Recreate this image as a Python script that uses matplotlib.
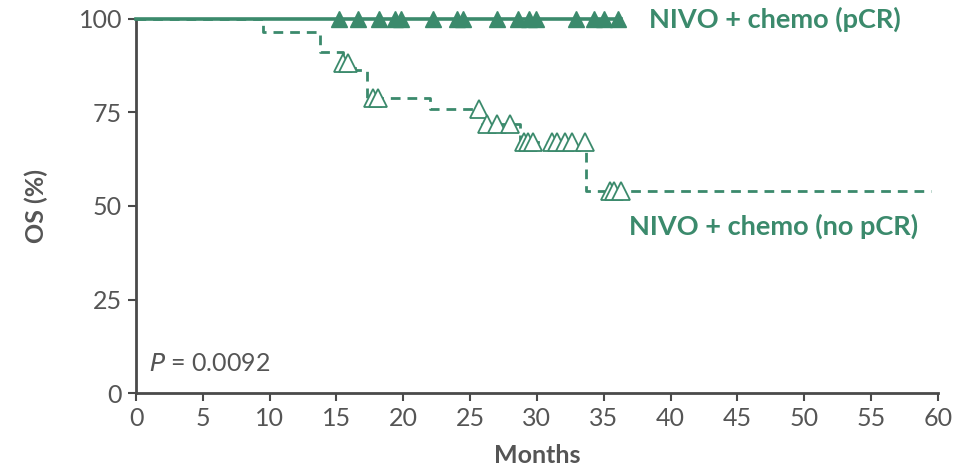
import matplotlib
matplotlib.use("Agg")
import matplotlib.pyplot as plt

plt.rcParams['font.family'] = ['Lato', 'DejaVu Sans']

GREEN = "#3b8a6c"
GREY = "#555555"

# NIVO + chemo (pCR): flat at 100%, censor marks
pcr_end = 36.3
pcr_censor = [15.2, 16.6, 18.2, 19.4, 19.8, 22.2, 24.0, 24.5, 27.0, 28.6, 29.4, 29.9, 32.9, 34.3, 35.0, 36.1]

# NIVO + chemo (no pCR): step curve
nopcr_t = [0, 9.5, 13.8, 15.5, 16.4, 17.3, 22.0, 25.9, 28.7, 33.7, 59.5]
nopcr_s = [100, 96.5, 91.2, 88.2, 86.4, 78.9, 75.8, 71.9, 67.1, 54.0, 54.0]
nopcr_censor_t = [15.5, 15.9, 17.7, 18.1, 25.7, 26.3, 27.0, 28.0, 29.0, 29.3, 29.7,
                  31.1, 31.5, 32.1, 32.6, 33.6, 35.5, 35.8, 36.3]

x_ticks = list(range(0, 61, 5))
y_ticks = [0, 25, 50, 75, 100]


def surv_at(t, times, surv):
    s = surv[0]
    for ti, si in zip(times, surv):
        if ti <= t:
            s = si
    return s


fig = plt.figure(figsize=(9.66, 4.73), dpi=100)
ax = fig.add_axes([0.1408, 0.169, 0.83, 0.791])

ax.plot([0, pcr_end], [100, 100], color=GREEN, lw=2.6, clip_on=False, zorder=3)
ax.plot(pcr_censor, [100] * len(pcr_censor), ls="none", marker="^", ms=11,
        color=GREEN, clip_on=False, zorder=4)

ax.step(nopcr_t, nopcr_s, where="post", color=GREEN, lw=2, ls=(0, (3.5, 2.5)), zorder=2)
ax.plot(nopcr_censor_t, [surv_at(t, nopcr_t, nopcr_s) for t in nopcr_censor_t],
        ls="none", marker="^", ms=13, mfc="white", mec=GREEN, mew=1.3, zorder=3)

ax.set_xlim(0, 60)
ax.set_ylim(0, 100)
ax.set_xticks(x_ticks)
ax.set_yticks(y_ticks)
for side in ["top", "right"]:
    ax.spines[side].set_visible(False)
for side in ["left", "bottom"]:
    ax.spines[side].set_color("#4a4a4a")
    ax.spines[side].set_linewidth(2)
ax.tick_params(axis="both", colors="#4a4a4a", width=1.5, length=6, labelsize=18,
               labelcolor=GREY, pad=4)

ax.set_xlabel("Months", fontsize=18, fontweight="bold", color=GREY, labelpad=10)
ax.set_ylabel("OS (%)", fontsize=18, fontweight="bold", color=GREY, labelpad=22)

ax.text(38.4, 100, "NIVO + chemo (pCR)", color=GREEN, fontsize=19.5, fontweight="bold",
        va="center", ha="left")
ax.text(36.9, 44.5, "NIVO + chemo (no pCR)", color=GREEN, fontsize=19.5, fontweight="bold",
        va="center", ha="left")
ax.text(1.0, 7.8, r"$\it{P}$ = 0.0092", color=GREY, fontsize=18, va="center", ha="left")

fig.savefig("out.png", dpi=100)
